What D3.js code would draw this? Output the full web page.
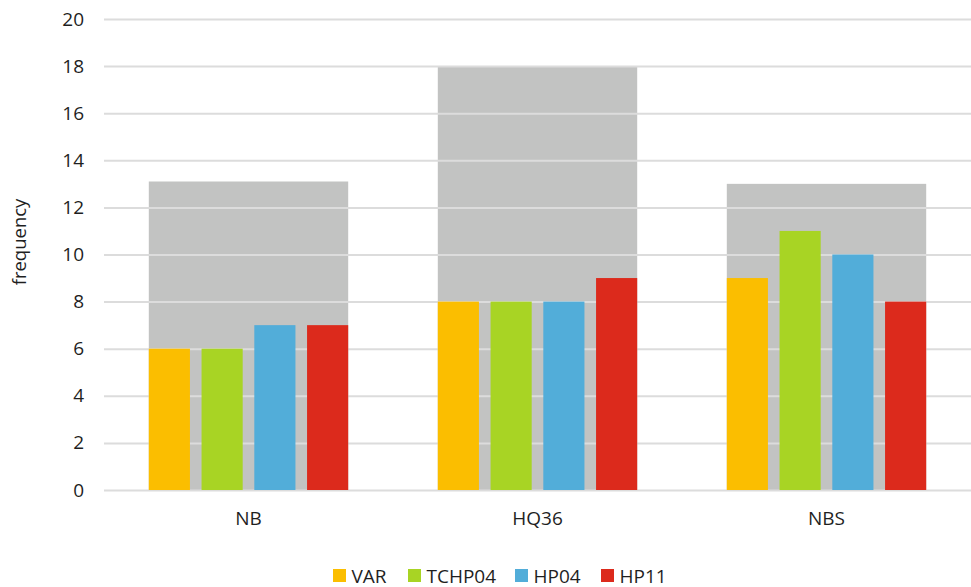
<!DOCTYPE html>
<html>
<head>
<meta charset="utf-8">
<script src="https://cdn.jsdelivr.net/npm/d3@7/dist/d3.min.js"></script>
<style>
  html, body { margin: 0; padding: 0; background: #ffffff; }
  svg { display: block; font-family: "Open Sans", "Liberation Sans", sans-serif; }
</style>
</head>
<body>
<svg id="chart" width="971" height="587"></svg>
<script>
// Groups along the x axis
const categories = ["NB", "HQ36", "NBS"];
// Series shown in the legend
const seriesNames = ["VAR", "TCHP04", "HP04", "HP11"];
const seriesColors = ["#FBBE00", "#A8D424", "#52ADD9", "#DC2A1C"];
// Frequencies per series, one value per category
const VAR    = [6, 8, 9];
const TCHP04 = [6, 8, 11];
const HP04   = [7, 8, 10];
const HP11   = [7, 9, 8];
// Grey backdrop value per category
const totals = [13.1, 18, 13];
// Y axis ticks
const yTicks = [0, 2, 4, 6, 8, 10, 12, 14, 16, 18, 20];

const seriesValues = [VAR, TCHP04, HP04, HP11];

const svg = d3.select("#chart");
const margin = { left: 104, right: 0, top: 19, bottom: 97 };
const W = 971, H = 587;
const textColor = "#1f1f1f";

const x = d3.scaleBand()
  .domain(categories)
  .range([margin.left, W - margin.right])
  .paddingInner(0.31)
  .paddingOuter(0.155);

const x1 = d3.scaleBand()
  .domain(seriesNames)
  .range([0, x.bandwidth()])
  .paddingInner(0.22)
  .paddingOuter(0);

const y = d3.scaleLinear().domain([0, 20]).range([H - margin.bottom, margin.top]);

// Grey backdrop bars
svg.append("g").selectAll("rect")
  .data(categories)
  .join("rect")
  .attr("x", d => x(d))
  .attr("width", x.bandwidth())
  .attr("y", (d, i) => y(totals[i]))
  .attr("height", (d, i) => y(0) - y(totals[i]))
  .attr("fill", "#C2C3C2");

// Horizontal gridlines with value labels
const yAxis = d3.axisLeft(y)
  .tickValues(yTicks)
  .tickSize(-(W - margin.left - margin.right))
  .tickPadding(20)
  .tickFormat(d3.format("d"));

const gy = svg.append("g")
  .attr("transform", `translate(${margin.left},0)`)
  .call(yAxis)
  .attr("font-family", null)
  .attr("font-size", null);
gy.select(".domain").remove();
gy.selectAll(".tick line")
  .attr("stroke", "#DCDCDC")
  .attr("stroke-width", 2);
gy.selectAll(".tick text")
  .attr("fill", textColor)
  .attr("font-size", 19);

// Series bars
const groups = svg.append("g").selectAll("g")
  .data(categories)
  .join("g")
  .attr("transform", d => `translate(${x(d)},0)`);

groups.selectAll("rect")
  .data((d, ci) => seriesNames.map((s, si) => ({ s, si, v: seriesValues[si][ci] })))
  .join("rect")
  .attr("x", d => x1(d.s))
  .attr("width", x1.bandwidth())
  .attr("y", d => y(d.v))
  .attr("height", d => y(0) - y(d.v))
  .attr("fill", d => seriesColors[d.si]);

// Category labels
const xAxis = d3.axisBottom(x).tickSize(0).tickPadding(22);
const gx = svg.append("g")
  .attr("transform", `translate(0,${y(0)})`)
  .call(xAxis)
  .attr("font-family", null)
  .attr("font-size", null);
gx.select(".domain").remove();
gx.selectAll(".tick text")
  .attr("fill", textColor)
  .attr("font-size", 19);

// Axis title
svg.append("text")
  .attr("transform", "translate(26,242) rotate(-90)")
  .attr("text-anchor", "middle")
  .attr("fill", textColor)
  .attr("font-size", 18.5)
  .text("frequency");

// Legend
const legendX = [333, 408, 515, 601];
const legend = svg.append("g").selectAll("g")
  .data(seriesNames)
  .join("g")
  .attr("transform", (d, i) => `translate(${legendX[i]},569)`);
legend.append("rect")
  .attr("width", 13).attr("height", 13)
  .attr("fill", (d, i) => seriesColors[i]);
legend.append("text")
  .attr("x", 18.5).attr("y", 13.5)
  .attr("fill", textColor)
  .attr("font-size", 19)
  .text(d => d);
</script>
</body>
</html>
